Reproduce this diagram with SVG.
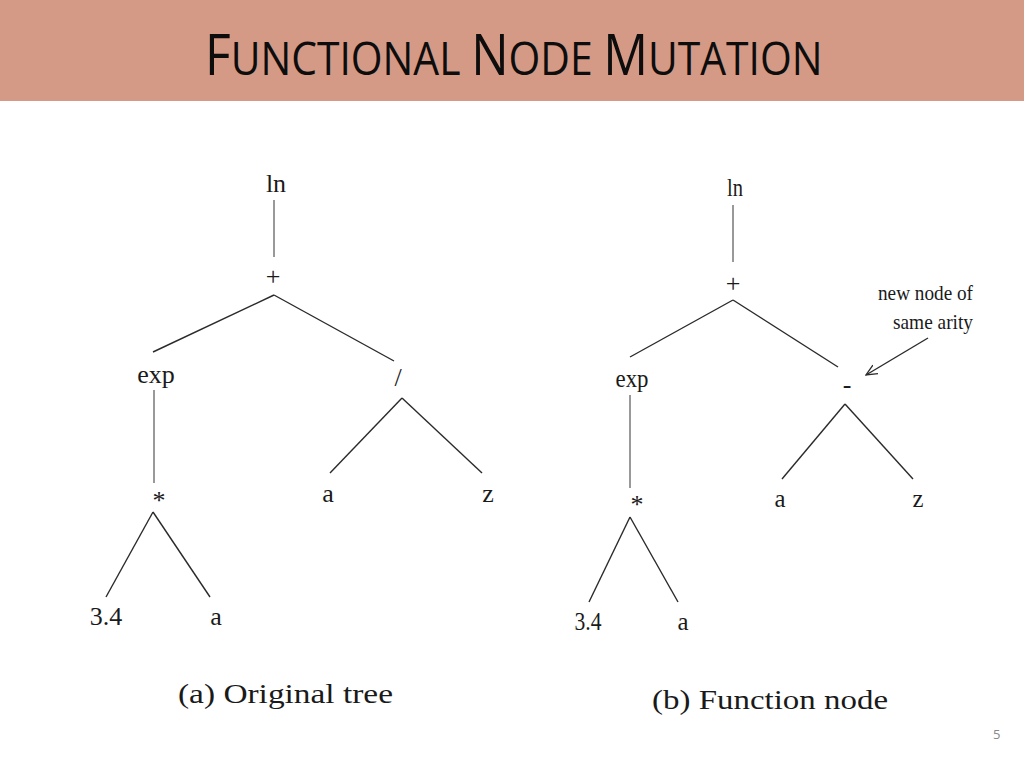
<svg xmlns="http://www.w3.org/2000/svg" width="1024" height="768" viewBox="0 0 1024 768">
<defs>
<style>
.t{font-family:"Liberation Serif","Times New Roman",serif;font-size:26px;fill:#1a1a1a;text-anchor:middle}
.e{stroke:#2a2a2a;stroke-width:1.4;fill:none}
.g{stroke:#555;stroke-width:1.2;fill:none}
.cap{font-family:"Liberation Serif","Times New Roman",serif;font-size:28px;fill:#1a1a1a}
.ann{font-family:"Liberation Serif","Times New Roman",serif;font-size:22px;fill:#1a1a1a;text-anchor:end}
.big{font-size:56px}
.sm{font-size:46px}
</style>
<marker id="ah" viewBox="0 0 12 12" refX="11" refY="6" markerWidth="12" markerHeight="12" markerUnits="userSpaceOnUse" orient="auto">
<path d="M0,1 L11,6 L0,11" fill="none" stroke="#2a2a2a" stroke-width="1.3"/>
</marker>
</defs>
<rect width="1024" height="768" fill="#ffffff"/>
<rect id="header" x="0" y="0" width="1024" height="101" fill="#D59A86"/>
<text transform="translate(205,75) scale(0.888,1)" x="0" y="0" font-family="'Open Sans','Liberation Sans',sans-serif" fill="#0d0d0d"><tspan class="big">F</tspan><tspan class="sm">UNCTIONAL </tspan><tspan class="big">N</tspan><tspan class="sm">ODE </tspan><tspan class="big">M</tspan><tspan class="sm">UTATION</tspan></text>

<g id="connectors">
<line class="g" x1="274" y1="200" x2="274" y2="257"/>
<line class="e" x1="274" y1="295" x2="153" y2="352"/>
<line class="e" x1="274" y1="295" x2="394" y2="361"/>
<line class="g" x1="154" y1="390" x2="154" y2="483"/>
<line class="e" x1="153" y1="512" x2="106" y2="597"/>
<line class="e" x1="153" y1="512" x2="210" y2="597"/>
<line class="e" x1="402" y1="398" x2="330" y2="473"/>
<line class="e" x1="402" y1="398" x2="482" y2="473"/>
<line class="g" x1="733" y1="205" x2="733" y2="262"/>
<line class="e" x1="733" y1="300" x2="630" y2="357"/>
<line class="e" x1="733" y1="300" x2="838" y2="367"/>
<line class="g" x1="630" y1="395" x2="630" y2="488"/>
<line class="e" x1="630" y1="517" x2="589" y2="602"/>
<line class="e" x1="630" y1="517" x2="678" y2="602"/>
<line class="e" x1="845" y1="404" x2="782" y2="479"/>
<line class="e" x1="845" y1="404" x2="913" y2="479"/>
<line class="e" x1="928" y1="338" x2="866" y2="375" marker-end="url(#ah)"/>
</g>

<g id="tree-a">
<g id="a-ln"><text class="t" x="276" y="192" font-size="27">ln</text></g>
<g id="a-plus"><text class="t" x="273" y="285">+</text></g>
<g id="a-exp"><text class="t" x="156" y="383">exp</text></g>
<g id="a-div"><text class="t" x="398" y="386">/</text></g>
<g id="a-mul"><text class="t" x="159" y="509" font-size="22">*</text></g>
<g id="a-a1"><text class="t" x="328" y="502">a</text></g>
<g id="a-z"><text class="t" x="488" y="502">z</text></g>
<g id="a-34"><text class="t" x="106" y="625">3.4</text></g>
<g id="a-a2"><text class="t" x="216" y="625">a</text></g>
</g>

<g id="tree-b">
<g id="b-ln"><text class="t" x="735" y="196" textLength="16" lengthAdjust="spacingAndGlyphs">ln</text></g>
<g id="b-plus"><text class="t" x="733" y="292">+</text></g>
<g id="b-exp"><text class="t" x="632" y="387" textLength="33" lengthAdjust="spacingAndGlyphs">exp</text></g>
<g id="b-minus"><text class="t" x="847" y="393">-</text></g>
<g id="b-mul"><text class="t" x="637" y="513" font-size="22">*</text></g>
<g id="b-a1"><text class="t" x="780" y="507" textLength="11" lengthAdjust="spacingAndGlyphs">a</text></g>
<g id="b-z"><text class="t" x="918" y="507" textLength="11" lengthAdjust="spacingAndGlyphs">z</text></g>
<g id="b-34"><text class="t" x="588" y="630" textLength="27" lengthAdjust="spacingAndGlyphs">3.4</text></g>
<g id="b-a2"><text class="t" x="683" y="630" textLength="11" lengthAdjust="spacingAndGlyphs">a</text></g>
<g id="annotation"><text class="ann" x="973" y="300" textLength="95" lengthAdjust="spacingAndGlyphs">new node of</text><text class="ann" x="973" y="329" textLength="80" lengthAdjust="spacingAndGlyphs">same arity</text></g>
</g>

<text class="cap" x="178" y="703" textLength="215" lengthAdjust="spacingAndGlyphs">(a) Original tree</text>
<text class="cap" x="652" y="709" textLength="236" lengthAdjust="spacingAndGlyphs">(b) Function node</text>
<text x="993" y="739" font-family="'Open Sans','Liberation Sans',sans-serif" font-size="13" fill="#888">5</text>
</svg>
